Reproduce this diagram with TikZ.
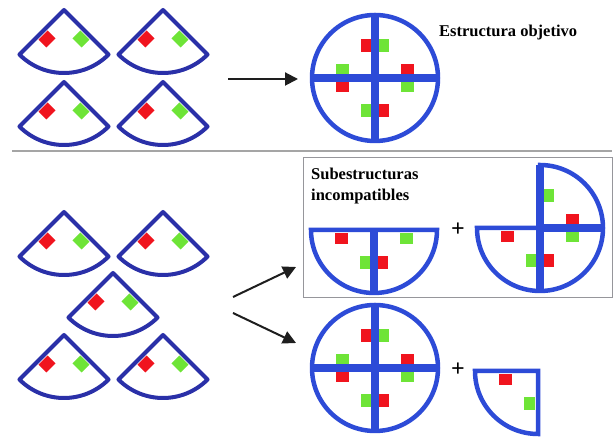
\documentclass[tikz,border=0pt]{standalone}
\usepackage{fontspec}
\setmainfont{Liberation Serif}
\usetikzlibrary{arrows.meta, positioning, calc}
\definecolor{FanBlue}{RGB}{42,48,168}
\definecolor{RingBlue}{RGB}{45,75,215}
\definecolor{TileRed}{RGB}{240,20,30}
\definecolor{TileGreen}{RGB}{110,228,55}
\definecolor{RuleGray}{RGB}{165,165,165}
\definecolor{BoxGray}{RGB}{150,150,155}
\definecolor{ArrowBlack}{RGB}{30,30,30}

% red tile on the start edge, green tile on the end edge
\newcommand{\tilepair}[2]{%
  \begin{scope}[shift={(#1)}, rotate=#2]
    \fill[TileRed]   (26,3) rectangle (39,14);
    \fill[TileGreen, rotate=90] (26,-3) rectangle (39,-14);
  \end{scope}}

\begin{document}
\begin{tikzpicture}[x=1pt, y=1pt,
  fan/.style={draw=FanBlue, line width=4pt, line join=round},
  ring/.style={draw=RingBlue, line width=4.5pt, line join=miter},
  arm/.style={draw=RingBlue, line width=8pt},
  arr/.style={-{Triangle[length=13pt, width=13pt]}, line width=2pt, ArrowBlack},
  txt/.style={font=\fontsize{16.5}{21}\selectfont\bfseries, text=black,
              inner sep=0pt, anchor=base west},
  plussign/.style={font=\fontsize{24}{24}\selectfont\bfseries, inner sep=0pt},
]
\useasboundingbox (0,0) rectangle (616,438);

\foreach \name/\x/\y in {fa/64/428, fb/163/428, fc/64/356, fd/163/356,
                         fe/64/226, ff/163/226, fg/113/165, fh/64/103, fi/163/103} {
  \coordinate (\name) at (\x,\y);
  \tilepair{\name}{225}
  \draw[fan] (\name) -- ++(225:63) arc[start angle=225, end angle=315, radius=63] -- cycle;
}

% target structure
\coordinate (goal) at (375,360);
\foreach \a in {0,90,180,270} {\tilepair{goal}{\a}}
\draw[arm] (goal) ++(-63,0) -- ++(126,0);
\draw[arm] (goal) ++(0,-63) -- ++(0,126);
\draw[ring] (goal) circle[radius=63];
\node[txt] (goaltxt) at (439,401) {Estructura objetivo};

\coordinate (ruleL) at (12,287);
\coordinate (ruleR) at (612,287);
\draw[RuleGray, line width=1.5pt] (ruleL) -- (ruleR);

\node[draw=BoxGray, line width=1pt, minimum width=309pt, minimum height=140pt,
      anchor=south west, inner sep=0pt] (box) at (303,140) {};
\node[txt] (subtxt) at (311,258) {Subestructuras};
\node[txt] (inctxt) at ([yshift=-21pt]subtxt.base west) {incompatibles};

% half
\coordinate (half) at (374,208);
\foreach \a in {180,270} {\tilepair{half}{\a}}
\draw[arm] (half) -- ++(0,-63);
\draw[ring] (half) ++(-63,0) -- ++(126,0) arc[start angle=0, end angle=-180, radius=63] -- cycle;
\node[plussign] (plusA) at (458,208) {+};

% three quarters
\coordinate (three) at (540,210);
\foreach \a in {0,180,270} {\tilepair{three}{\a}}
\draw[arm] (three) ++(0,63) -- ++(0,-126);
\draw[arm] (three) -- ++(63,0);
\draw[ring] (three) ++(-63,0) -- ++(63,0) -- ++(0,63) arc[start angle=90, end angle=-180, radius=63] -- cycle;

% full circle plus one quarter
\coordinate (full) at (375,70);
\foreach \a in {0,90,180,270} {\tilepair{full}{\a}}
\draw[arm] (full) ++(-63,0) -- ++(126,0);
\draw[arm] (full) ++(0,-63) -- ++(0,126);
\draw[ring] (full) circle[radius=63];
\node[plussign] (plusB) at (458,68) {+};

\coordinate (piece) at (538,67);
\tilepair{piece}{180}
\draw[ring] (piece) -- ++(-63,0) arc[start angle=180, end angle=270, radius=63] -- cycle;

\coordinate (srcA) at (228,359);
\coordinate (tipA) at (298,359);
\coordinate (srcB) at (233,141);
\coordinate (tipB) at (296,171);
\coordinate (srcC) at (233,125);
\coordinate (tipC) at (296,95);
\draw[arr] (srcA) -- (tipA);
\draw[arr] (srcB) -- (tipB);
\draw[arr] (srcC) -- (tipC);
\end{tikzpicture}
\end{document}
